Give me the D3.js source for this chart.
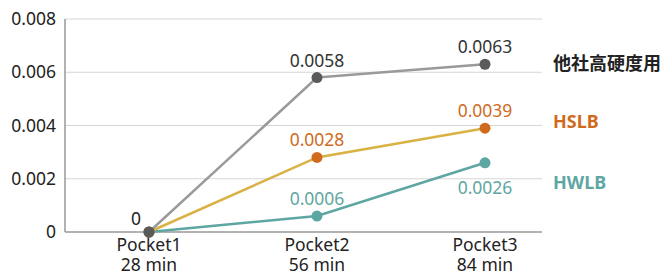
<!DOCTYPE html>
<html>
<head>
<meta charset="utf-8">
<script src="https://cdn.jsdelivr.net/npm/d3@7"></script>
<style>
  body { margin: 0; background: #fff; }
  svg { font-family: "Noto Sans", "Noto Sans CJK JP", sans-serif; }
</style>
</head>
<body>
<div id="chart"></div>
<script>
// categories and tick labels
const categories = ['Pocket1', 'Pocket2', 'Pocket3'];
const categorySub = ['28 min', '56 min', '84 min'];
const yTicks = [0, 0.002, 0.004, 0.006, 0.008];

// series values
const otherValues = [0, 0.0058, 0.0063];
const hslbValues = [0, 0.0028, 0.0039];
const hwlbValues = [0, 0.0006, 0.0026];

const series = [
  { name: '他社高硬度用', values: otherValues, line: '#9a9a9a', dot: '#5a5a5a', text: '#333', legend: '#222', below: [false, false, false], legendShift: 0 },
  { name: 'HSLB', values: hslbValues, line: '#d9b243', dot: '#d06a1c', text: '#d06a1c', legend: '#d06a1c', below: [false, false, false], legendShift: -6 },
  { name: 'HWLB', values: hwlbValues, line: '#5ea6a2', dot: '#5ea6a2', text: '#5ea6a2', legend: '#5ea6a2', below: [false, false, true], legendShift: 20 },
];

const width = 662, height = 276;
const plotLeft = 65, plotRight = 542, plotTop = 19, plotBottom = 232;
const fs = 17.5;

const svg = d3.select('#chart').append('svg')
  .attr('width', width).attr('height', height);

const x = d3.scalePoint().domain(categories).range([149, 485]);
const y = d3.scaleLinear().domain([0, 0.008]).range([plotBottom, plotTop]);

// grid lines
svg.append('g').selectAll('line').data(yTicks.slice(1)).enter().append('line')
  .attr('x1', plotLeft).attr('x2', plotRight)
  .attr('y1', d => y(d)).attr('y2', d => y(d))
  .attr('stroke', '#d6d6d6').attr('stroke-width', 1);

// axes lines
svg.append('line').attr('x1', plotLeft).attr('x2', plotLeft).attr('y1', plotTop).attr('y2', plotBottom)
  .attr('stroke', '#999').attr('stroke-width', 1.5);
svg.append('line').attr('x1', plotLeft).attr('x2', plotRight).attr('y1', plotBottom).attr('y2', plotBottom)
  .attr('stroke', '#999').attr('stroke-width', 1.5);

// y tick labels
svg.append('g').selectAll('text').data(yTicks).enter().append('text')
  .attr('x', 56).attr('y', d => y(d) + 6)
  .attr('text-anchor', 'end')
  .attr('font-size', fs).attr('fill', '#222')
  .text(d => (d === 0 ? '0' : d3.format('.3f')(d)));

// x tick labels, two lines each
const xg = svg.append('g').attr('text-anchor', 'middle').attr('font-size', fs).attr('fill', '#222');
xg.selectAll('text.cat').data(categories).enter().append('text')
  .attr('class', 'cat').attr('x', d => x(d)).attr('y', 251).text(d => d);
xg.selectAll('text.sub').data(categorySub).enter().append('text')
  .attr('class', 'sub').attr('x', (d, i) => x(categories[i])).attr('y', 271).text(d => d);

const line = d3.line().x((d, i) => x(categories[i])).y(d => y(d));

// draw series in reverse so the gray is on top at origin
series.slice().reverse().forEach((s) => {
  svg.append('path').datum(s.values)
    .attr('d', line).attr('fill', 'none')
    .attr('stroke', s.line).attr('stroke-width', 2.5);
});

series.slice().reverse().forEach((s) => {
  svg.append('g').selectAll('circle').data(s.values).enter().append('circle')
    .attr('cx', (d, i) => x(categories[i])).attr('cy', d => y(d))
    .attr('r', 5.5).attr('fill', s.dot);
  svg.append('g').selectAll('text').data(s.values.slice(1)).enter()
    .append('text')
    .attr('x', (d, i) => x(categories[i + 1]))
    .attr('y', (d, i) => (s.below[i + 1] ? y(d) + 31 : y(d) - 11))
    .attr('text-anchor', 'middle').attr('font-size', fs).attr('fill', s.text)
    .text(d => d3.format('.4f')(d));
  // legend at the right end
  svg.append('text')
    .attr('x', 553).attr('y', y(s.values[2]) + 6 + s.legendShift)
    .attr('font-size', 18).attr('font-weight', 'bold').attr('fill', s.legend)
    .text(s.name);
});

// zero label
svg.append('text').attr('x', 136).attr('y', 225)
  .attr('text-anchor', 'middle').attr('font-size', fs).attr('fill', '#222').text('0');
</script>
</body>
</html>
